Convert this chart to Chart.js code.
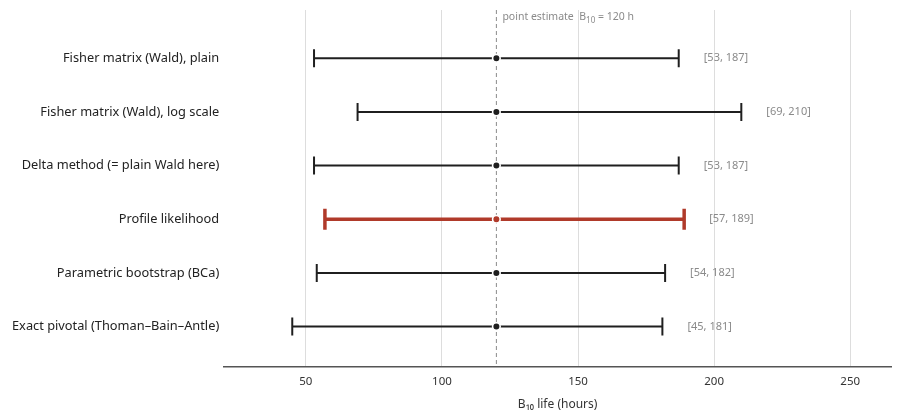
<!DOCTYPE html>
<html>
<head>
<meta charset="utf-8">
<script src="https://cdn.jsdelivr.net/npm/chart.js@4"></script>
<style>
html,body{margin:0;padding:0;background:#fff;}
#wrap{width:900px;height:420px;position:relative;}
</style>
</head>
<body>
<div id="wrap"><canvas id="c"></canvas></div>
<script>
const methods = [
  "Fisher matrix (Wald), plain",
  "Fisher matrix (Wald), log scale",
  "Delta method (= plain Wald here)",
  "Profile likelihood",
  "Parametric bootstrap (BCa)",
  "Exact pivotal (Thoman\u2013Bain\u2013Antle)"
];
const lower = [53, 69, 53, 57, 54, 45];
const upper = [187, 210, 187, 189, 182, 181];
const estimate = [120, 120, 120, 120, 120, 120];
const pointEstimate = 120;
const xTicks = [50, 100, 150, 200, 250];
const highlight = 3;

const FONT = "'Noto Sans', 'DejaVu Sans', sans-serif";
const BLACK = '#1f1f1f';
const RED = '#b03a2a';

const datasets = [];
methods.forEach((m, i) => {
  const hl = i === highlight;
  datasets.push({
    type: 'line',
    data: [{x: lower[i], y: i}, {x: upper[i], y: i}],
    borderColor: hl ? RED : BLACK,
    borderWidth: hl ? 3.5 : 2,
    pointStyle: 'line',
    rotation: 90,
    pointRadius: hl ? 10.5 : 9,
    pointBorderWidth: hl ? 3.5 : 2,
    pointBorderColor: hl ? RED : BLACK,
    order: 2
  });
});
datasets.push({
  type: 'line',
  data: estimate.map((v, i) => ({x: v, y: i})),
  showLine: false,
  pointStyle: 'circle',
  pointRadius: 3.8,
  pointBackgroundColor: estimate.map((v, i) => i === highlight ? RED : BLACK),
  pointBorderColor: '#ffffff',
  pointBorderWidth: 1.6,
  order: 1
});
datasets.push({
  type: 'line',
  data: [{x: pointEstimate, y: -0.9}, {x: pointEstimate, y: 5.75}],
  borderColor: '#8a8a8a',
  borderWidth: 1,
  borderDash: [4, 3],
  pointRadius: 0,
  order: 10
});

const annot = {
  id: 'annot',
  afterDatasetsDraw(chart) {
    const ctx = chart.ctx, xs = chart.scales.x, ys = chart.scales.y;
    ctx.save();
    ctx.font = "11px " + FONT;
    ctx.fillStyle = '#8a8a8a';
    ctx.textAlign = 'left';
    ctx.textBaseline = 'middle';
    methods.forEach((m, i) => {
      ctx.fillText('[' + lower[i] + ', ' + upper[i] + ']', xs.getPixelForValue(upper[i]) + 25, ys.getPixelForValue(i));
    });
    ctx.textBaseline = 'alphabetic';
    let x = xs.getPixelForValue(pointEstimate) + 6;
    const yb = chart.chartArea.top + 10;
    ctx.font = "10.5px " + FONT;
    const p1 = 'point estimate  B';
    ctx.fillText(p1, x, yb); x += ctx.measureText(p1).width;
    ctx.font = "8px " + FONT;
    ctx.fillText('10', x, yb + 2.5); x += ctx.measureText('10').width;
    ctx.font = "10.5px " + FONT;
    ctx.fillText(' = ' + pointEstimate + ' h', x, yb);
    ctx.restore();
  }
};

new Chart(document.getElementById('c'), {
  type: 'line',
  data: {datasets},
  options: {
    responsive: true,
    maintainAspectRatio: false,
    animation: false,
    events: [],
    layout: {autoPadding: false, padding: {top: 10, right: 9, left: 7, bottom: 4}},
    plugins: {legend: {display: false}, tooltip: {enabled: false}},
    scales: {
      x: {
        type: 'linear',
        min: 20, max: 265,
        afterBuildTicks: s => { s.ticks = xTicks.map(v => ({value: v})); },
        afterFit: s => { s.paddingLeft = 0; s.paddingRight = 0; },
        grid: {color: '#dddddd', lineWidth: 1, drawTicks: false},
        border: {display: true, color: '#555555', width: 1.5},
        ticks: {color: '#333333', padding: 8, font: {family: FONT, size: 11.5}},
        title: {display: true, text: 'B\u2081\u2080 life (hours)', color: '#333333', padding: {top: 1}, font: {family: FONT, size: 12}}
      },
      y: {
        type: 'linear',
        reverse: true,
        min: -0.9, max: 5.75,
        afterBuildTicks: s => { s.ticks = methods.map((m, i) => ({value: i})); },
        afterFit: s => { s.paddingTop = 0; s.paddingBottom = 0; },
        grid: {display: false, drawTicks: false},
        border: {display: false},
        ticks: {color: '#222222', padding: 5, font: {family: FONT, size: 12.8}, callback: v => methods[v]}
      }
    }
  },
  plugins: [annot]
});
</script>
</body>
</html>
